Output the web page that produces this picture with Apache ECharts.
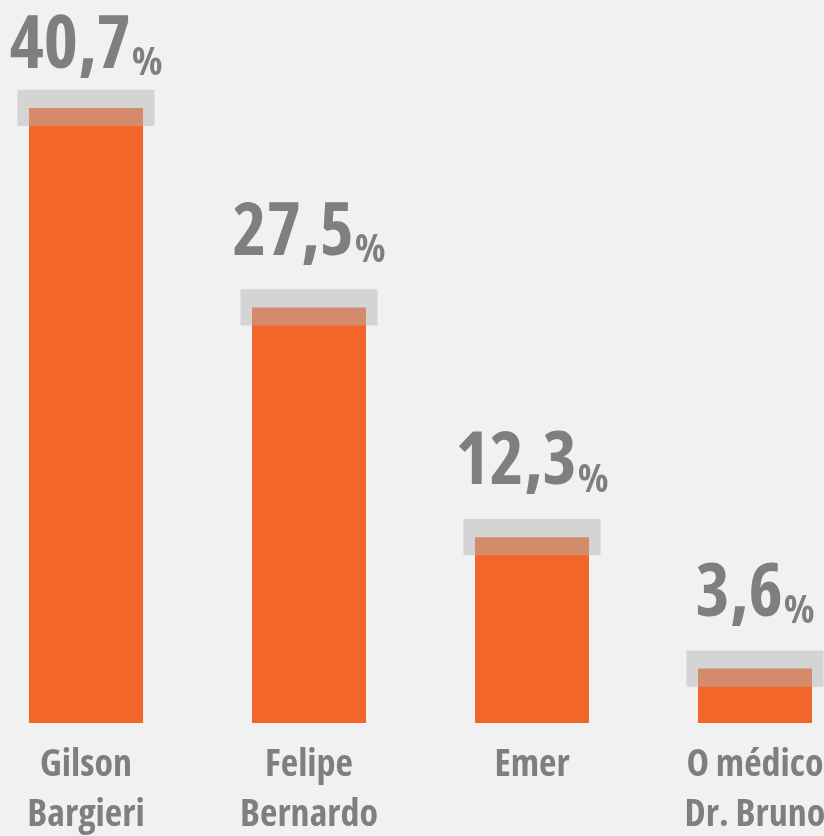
<!DOCTYPE html>
<html>
<head>
<meta charset="utf-8">
<script src="https://cdn.jsdelivr.net/npm/echarts@6/dist/echarts.min.js"></script>
<style>
  html, body { margin: 0; padding: 0; background: #f1f1f1; }
  #chart { width: 824px; height: 836px; }
</style>
</head>
<body>
<div id="chart"></div>
<script>
// dados
const candidatos = ['Gilson\nBargieri', 'Felipe\nBernardo', 'Emer', 'O médico\nDr. Bruno']
const percentuais = [40.7, 27.5, 12.3, 3.6]
const margem = [1.2, 1.2, 1.2, 1.2]

// Open Sans em largura condensada (fontStyle entra na string de fonte do canvas)
const fonte = "'Open Sans', sans-serif"
const estreita = 'condensed'
const cinza = '#7f7f7f'

const chart = echarts.init(document.getElementById('chart'))

const option = {
  backgroundColor: '#f1f1f1',
  animation: false,
  grid: { left: 86, right: 69, top: 43, bottom: 113, outerBoundsMode: 'none' },
  xAxis: {
    type: 'category',
    data: candidatos,
    boundaryGap: false,
    axisLine: { show: false },
    axisTick: { show: false },
    axisLabel: {
      interval: 0,
      color: cinza,
      fontFamily: fonte,
      fontStyle: estreita,
      fontWeight: 'bold',
      fontSize: 38,
      lineHeight: 50,
      margin: 17,
    },
  },
  yAxis: {
    type: 'value',
    min: 0,
    max: 45,
    show: false,
    splitLine: { show: false },
  },
  series: [
    {
      type: 'bar',
      data: percentuais,
      barWidth: 114,
      itemStyle: { color: '#f26729' },
      label: {
        show: true,
        position: 'top',
        distance: 37,
        formatter: (p) => `{a|${p.value.toFixed(1).replace('.', ',')}}{b|%}`,
        rich: {
          a: { color: cinza, fontFamily: fonte, fontStyle: estreita, fontWeight: 'bold', fontSize: 73, lineHeight: 78, verticalAlign: 'bottom' },
          b: { color: cinza, fontFamily: fonte, fontStyle: estreita, fontWeight: 'bold', fontSize: 40, lineHeight: 78, verticalAlign: 'bottom', padding: [0, 0, 0, 1] },
        },
      },
      // rótulo que não cabe no topo fica preso à borda
      labelLayout: (p) =>
        p.labelRect.y < 6
          ? { x: p.labelRect.x, y: 6, align: 'left', verticalAlign: 'top' }
          : {},
      z: 2,
    },
    {
      // faixa da margem de erro
      type: 'custom',
      data: percentuais.map((v, i) => [i, v, margem[i]]),
      renderItem: (params, api) => {
        const i = api.value(0)
        const v = api.value(1)
        const m = api.value(2)
        const top = api.coord([i, v + m])
        const bot = api.coord([i, v - m])
        return {
          type: 'rect',
          shape: { x: top[0] - 68.5, y: top[1], width: 137, height: bot[1] - top[1] },
          style: { fill: 'rgba(180,180,180,0.48)' },
        }
      },
      z: 3,
    },
  ],
}

chart.setOption(option)
</script>
</body>
</html>
